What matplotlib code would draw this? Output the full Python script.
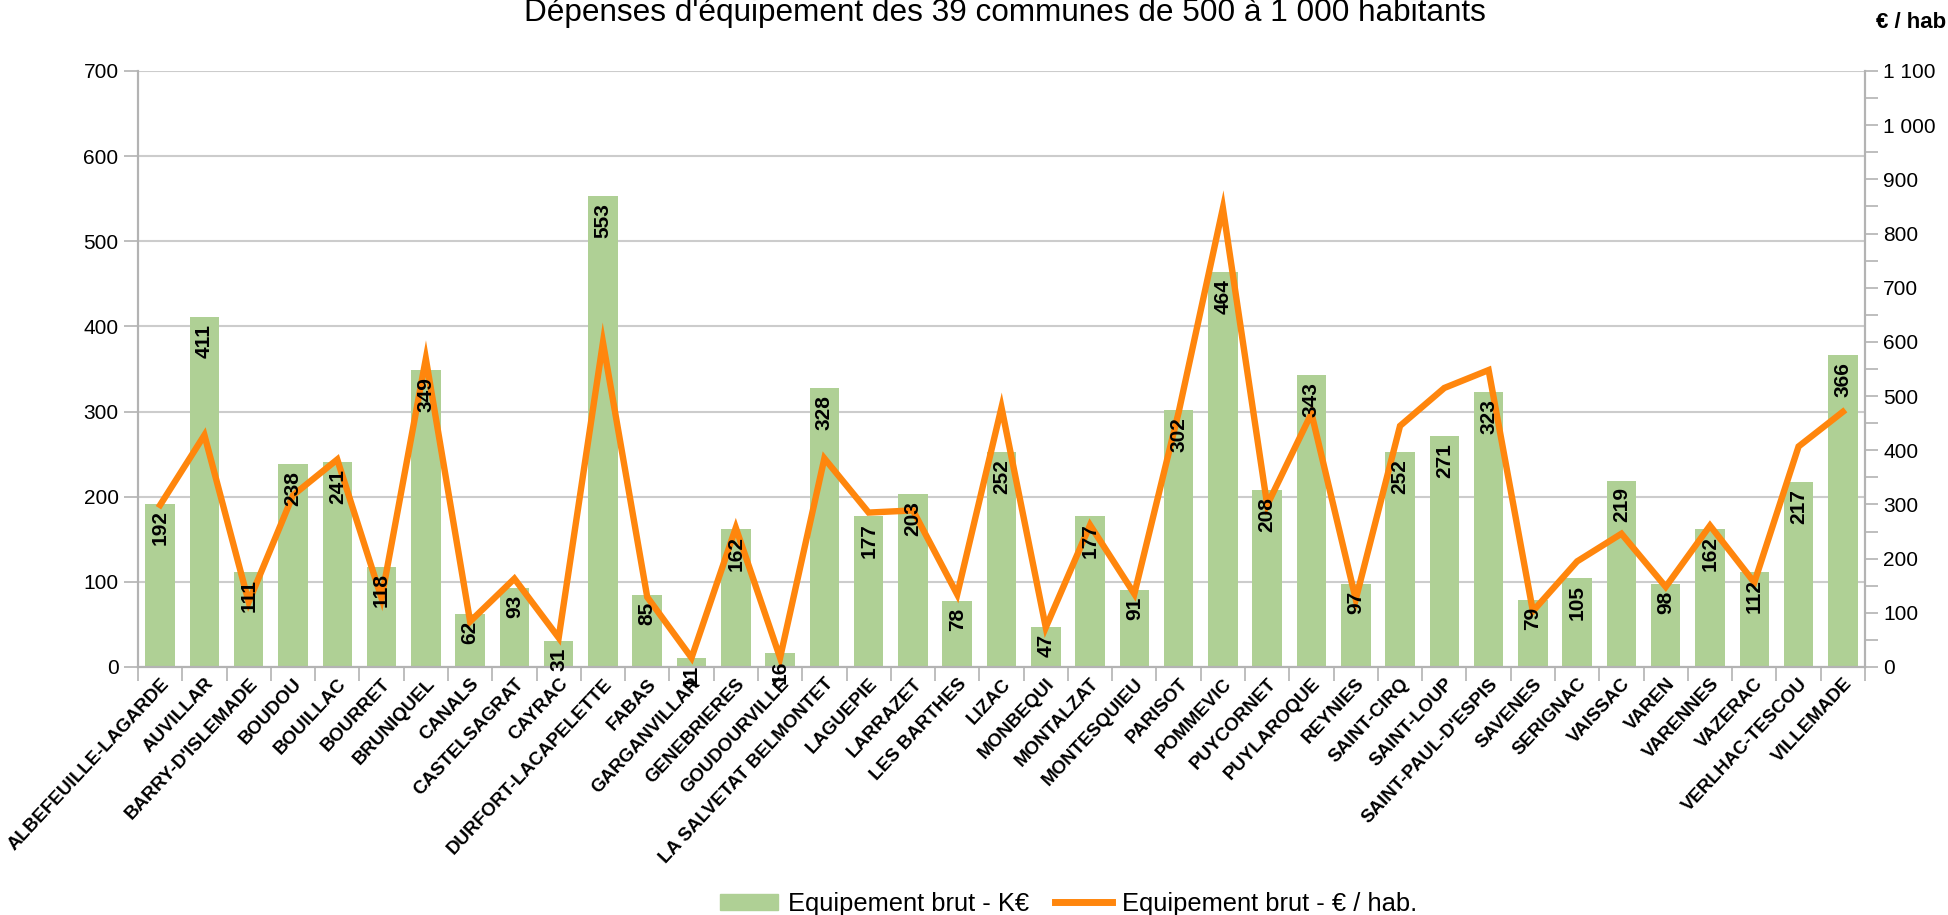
import numpy as np
import matplotlib
matplotlib.use('Agg')
import matplotlib.pyplot as plt
from matplotlib.ticker import FuncFormatter, MultipleLocator
from matplotlib.patches import Patch
from matplotlib.lines import Line2D

plt.rcParams['font.family'] = ['Liberation Sans', 'DejaVu Sans']

# communes
communes = ['ALBEFEUILLE-LAGARDE', 'AUVILLAR', "BARRY-D'ISLEMADE", 'BOUDOU', 'BOUILLAC',
            'BOURRET', 'BRUNIQUEL', 'CANALS', 'CASTELSAGRAT', 'CAYRAC',
            'DURFORT-LACAPELETTE', 'FABAS', 'GARGANVILLAR', 'GENEBRIERES', 'GOUDOURVILLE',
            'LA SALVETAT BELMONTET', 'LAGUEPIE', 'LARRAZET', 'LES BARTHES', 'LIZAC',
            'MONBEQUI', 'MONTALZAT', 'MONTESQUIEU', 'PARISOT', 'POMMEVIC',
            'PUYCORNET', 'PUYLAROQUE', 'REYNIES', 'SAINT-CIRQ', 'SAINT-LOUP',
            "SAINT-PAUL-D'ESPIS", 'SAVENES', 'SERIGNAC', 'VAISSAC', 'VAREN',
            'VARENNES', 'VAZERAC', 'VERLHAC-TESCOU', 'VILLEMADE']

# equipement brut en K€ (barres, axe gauche)
equip_ke = [192, 411, 111, 238, 241, 118, 349, 62, 93, 31,
            553, 85, 11, 162, 16, 328, 177, 203, 78, 252,
            47, 177, 91, 302, 464, 208, 343, 97, 252, 271,
            323, 79, 105, 219, 98, 162, 112, 217, 366]

# equipement brut en € / hab (courbe, axe droit)
equip_hab = [299, 428, 120, 317, 383, 127, 569, 84, 163, 54,
             599, 129, 17, 257, 17, 385, 285, 289, 134, 479,
             73, 262, 135, 470, 847, 299, 468, 125, 445, 515,
             548, 103, 195, 246, 148, 261, 156, 407, 471]

bar_color = '#afd095'
line_color = '#ff860d'
grid_color = '#cccccc'
axis_color = '#b3b3b3'

fig = plt.figure(figsize=(19.48, 9.15), dpi=100)
ax = fig.add_axes([138/1948, 1-667/915, (1865-138)/1948, (667-71)/915])
ax2 = ax.twinx()

x = np.arange(len(communes))

# barres
ax.bar(x, equip_ke, width=0.667, color=bar_color, zorder=2)
ax.set_ylim(0, 700)
ax.set_xlim(-0.5, len(communes) - 0.5)
ax.yaxis.set_major_locator(MultipleLocator(100))
ax.yaxis.grid(True, color=grid_color, linewidth=1.5, zorder=0)
ax.set_axisbelow(True)

# courbe
ax2.plot(x, equip_hab, color=line_color, linewidth=4.6, solid_joinstyle='miter', zorder=3)
ax2.set_ylim(0, 1100)
ax2.yaxis.set_major_locator(MultipleLocator(100))
ax2.yaxis.set_minor_locator(MultipleLocator(50))
ax2.yaxis.set_major_formatter(FuncFormatter(lambda v, p: '{:,.0f}'.format(v).replace(',', ' ')))

# etiquettes de valeurs (au-dessus de la courbe)
for i, v in enumerate(equip_ke):
    ax2.annotate(str(v), xy=(i, v), xycoords=ax.transData, xytext=(0, -5),
                 textcoords='offset points', rotation=90, ha='center', va='top',
                 fontsize=15, fontweight='bold', color='black', zorder=5)

# axe x: traits aux limites des categories, libelles au centre
ax.set_xticks(np.arange(len(communes) + 1) - 0.5)
ax.set_xticklabels([])
ax.set_xticks(x, minor=True)
ax.set_xticklabels(communes, minor=True, rotation=47, ha='right', va='top',
                   rotation_mode='anchor', fontsize=13.5, fontweight='bold')
ax.tick_params(axis='x', which='major', length=10, width=1.2, color=axis_color)
ax.tick_params(axis='x', which='minor', length=0, pad=6)

ax.tick_params(axis='y', length=10, width=1.2, color=axis_color, labelsize=15, pad=4)
ax2.tick_params(axis='y', which='both', length=9, width=1.2, color=axis_color, labelsize=15, pad=4)

for a in (ax, ax2):
    for side in ('left', 'right', 'bottom'):
        a.spines[side].set_color(axis_color)
        a.spines[side].set_linewidth(1.5)
    a.spines['top'].set_visible(False)

fig.text(1005/1948, 1-13/915, "Dépenses d'équipement des 39 communes de 500 à 1 000 habitants",
         ha='center', va='center', fontsize=22.7)
fig.text(1946/1948, 1-22/915, '€ / hab', ha='right', va='center', fontsize=16, fontweight='bold')

# legende
handles = [Patch(facecolor=bar_color, edgecolor=bar_color),
           Line2D([0], [0], color=line_color, linewidth=5)]
fig.legend(handles, ['Equipement brut - K€', 'Equipement brut - € / hab.'],
           loc='center', bbox_to_anchor=(1069/1948, 1-904/915), ncol=2, frameon=False,
           fontsize=18.4, handlelength=2.25, handleheight=0.6, handletextpad=0.4,
           columnspacing=1.0, borderpad=0)

fig.savefig('out.png', dpi=100)
